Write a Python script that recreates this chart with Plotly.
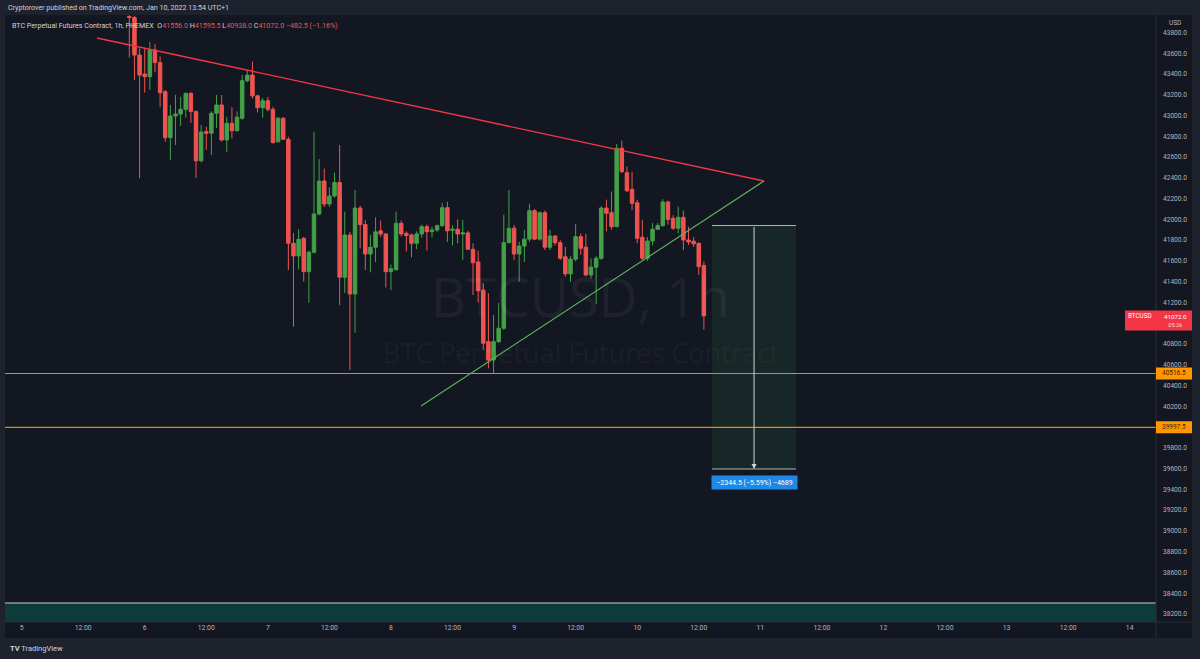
import plotly.graph_objects as go
import pandas as pd

# ---------------- data ----------------
first_candle = "2022-01-05 21:00"
opens = [43955, 43945, 43583, 43400, 43375, 43632, 43510, 43230, 42787, 42996,
         43015, 43060, 43214, 43040, 42565, 42845, 42830, 43022, 43102, 42765,
         42926, 42855, 42974, 43336, 43390, 43190, 43076, 43143, 43060, 42748,
         42974, 42772, 41770, 41648, 41818, 41497, 41683, 42052,
         42370, 42148, 42225, 42355, 41443, 41850, 41282, 42110, 41950, 41667,
         41732, 41890, 41860, 41497, 41515, 41963, 41866, 41850, 41770, 41860,
         41930, 41882, 41898, 41940, 42113, 41895, 41905, 41860, 41870, 41712,
         41590, 41320, 40823, 40646, 40823, 40952, 41776, 41915,
         41667, 41744, 41810, 42084, 41810, 42065, 41732, 41840, 41776, 41640,
         41475, 41617, 41834, 41732, 41465, 41540, 41625, 42110, 42065, 41930,
         42685, 42450, 42290, 42160, 41828, 41626, 41792, 41905, 41940, 42168,
         42010, 41915, 42020, 41802, 41790, 41770, 41556]
highs = [43965, 43960, 43648, 43650, 43710, 43690, 43570, 43246, 43102, 43198,
         43180, 43220, 43225, 43050, 42910, 42893, 43040, 43198, 43198, 42990,
         43080, 43040, 43390, 43440, 43520, 43200, 43170, 43180, 43085, 42990,
         42985, 42797, 41870, 41905, 41830, 41700, 42845, 42580,
         42490, 42310, 42450, 42717, 42075, 41880, 42283, 42130, 41995, 41850,
         42020, 41990, 41867, 41565, 42075, 41990, 41885, 41865, 41885, 41950,
         41950, 41930, 41950, 42160, 42170, 41940, 42000, 41995, 41890, 41770,
         41700, 41385, 41288, 41080, 41195, 42045, 42283, 41945,
         41785, 41900, 42150, 42100, 42075, 42085, 41900, 41850, 41800, 41735,
         41645, 41955, 41865, 41860, 41625, 41650, 42130, 42190, 42268, 42725,
         42760, 42510, 42460, 42190, 41995, 41830, 41965, 41965, 42195, 42180,
         42040, 42123, 42085, 41930, 41830, 41776, 41595.5]
lows = [43560, 43343, 42396, 43220, 43246, 43418, 43080, 42748, 42573, 42717,
        42900, 42980, 42930, 42400, 42550, 42670, 42620, 42880, 42750, 42650,
        42780, 42845, 42960, 43320, 43165, 43030, 42980, 43040, 42730, 42740,
        42765, 41513, 40967, 41520, 41400, 41198, 41674, 42040,
        42120, 42120, 42210, 41175, 41290, 40550, 40909, 41720, 41513, 41490,
        41590, 41830, 41345, 41320, 41510, 41835, 41690, 41635, 41715, 41825,
        41700, 41825, 41880, 41930, 41785, 41750, 41770, 41610, 41705, 41272,
        41200, 40743, 40566, 40518, 40810, 40935, 41770, 41610,
        41400, 41590, 41785, 41800, 41795, 41705, 41705, 41750, 41610, 41450,
        41400, 41595, 41660, 41450, 41430, 41185, 41610, 41885, 41900, 41925,
        42445, 42265, 42090, 41770, 41610, 41600, 41750, 41900, 41930, 41950,
        41900, 41866, 41705, 41755, 41735, 41465, 40938]
closes = [43945, 43583, 43390, 43375, 43632, 43510, 43220, 42787, 42996, 43015,
          43060, 43214, 43040, 42565, 42842, 42830, 43022, 43102, 42765, 42926,
          42855, 42984, 43336, 43390, 43190, 43076, 43143, 43060, 42740, 42974,
          42772, 41770, 41648, 41808, 41497, 41683, 42052, 42370,
          42148, 42225, 42355, 41443, 41850, 41282, 42110, 41950, 41667, 41732,
          41880, 41860, 41497, 41525, 41963, 41860, 41845, 41770, 41860, 41930,
          41882, 41898, 41940, 42113, 41890, 41905, 41860, 41870, 41712, 41583,
          41313, 40807, 40646, 40823, 40952, 41776, 41915, 41667,
          41744, 41810, 42084, 41810, 42065, 41732, 41840, 41776, 41626, 41475,
          41617, 41834, 41722, 41465, 41540, 41625, 42110, 42060, 41930, 42685,
          42460, 42276, 42155, 41818, 41626, 41792, 41905, 41940, 42168, 42000,
          41915, 42020, 41802, 41783, 41765, 41545, 41072]

times = pd.date_range(first_candle, periods=len(opens), freq="h")

day_ticks = pd.date_range("2022-01-05", "2022-01-14", freq="12h")
day_tick_text = [str(t.day) if t.hour == 0 else "12:00" for t in day_ticks]
price_ticks = list(range(38200, 43801, 200))
hidden_price_ticks = [41000, 40000]   # covered by the price labels in the original

x_range = ["2022-01-04 20:46", "2022-01-14 05:08"]
y_range = [38123, 43968.5]

resistance_t = ["2022-01-05 14:42", "2022-01-11 00:43"]
resistance_p = [43747, 42370]
support_t = ["2022-01-08 05:52", "2022-01-11 00:43"]
support_p = [40203, 42370]

levels = [40516.5, 39997.5]
zone_top = 38306

measure_t = ["2022-01-10 14:36", "2022-01-11 06:58"]
measure_top = 41941.0
measure_change = -2344.5
measure_pct = -5.59
measure_ticks = -4689

last_change = -482.5
last_pct = -1.16
countdown = "05:26"

# ---------------- colours ----------------
FRAME = "#1e222d"
BG = "#131722"
UP = "#43a047"
DOWN = "#ef5350"
TXT = "#b2b5be"
SEP = "#2a2e39"
ORANGE = "#e8870f"
FONT = "Roboto"

# pixel helpers for the overlay layout (plot area 5..1156 x 15..622)
def pxx(x):
    return (x - 5) / 1151.0

def pxy(y):
    return (622 - y) / 607.0

def price_to_px(p):
    return 15 + (y_range[1] - p) * 607.0 / (y_range[1] - y_range[0])

fig = go.Figure()

fig.add_trace(go.Candlestick(
    x=times, open=opens, high=highs, low=lows, close=closes,
    increasing=dict(line=dict(color=UP, width=1), fillcolor=UP),
    decreasing=dict(line=dict(color=DOWN, width=1), fillcolor=DOWN),
    whiskerwidth=0, showlegend=False, hoverinfo="skip",
))

for lv in levels:
    fig.add_trace(go.Scatter(x=x_range, y=[lv, lv], mode="lines",
                             line=dict(color=ORANGE, width=1.1),
                             showlegend=False, hoverinfo="skip"))

fig.add_trace(go.Scatter(x=resistance_t, y=resistance_p, mode="lines",
                         line=dict(color="#f23645", width=1.4),
                         showlegend=False, hoverinfo="skip"))
fig.add_trace(go.Scatter(x=support_t, y=support_p, mode="lines",
                         line=dict(color="#5cb85c", width=1.1),
                         showlegend=False, hoverinfo="skip"))

shapes = []
# chart box background
shapes.append(dict(type="rect", xref="paper", yref="paper", x0=pxx(5), x1=pxx(1192),
                   y0=pxy(638), y1=pxy(15), fillcolor=BG, line=dict(width=0), layer="below"))
# bottom zone
shapes.append(dict(type="rect", xref="paper", yref="y", x0=0, x1=1, y0=y_range[0] - 200,
                   y1=zone_top, fillcolor="#0d3b3a", line=dict(width=0), layer="below"))
shapes.append(dict(type="line", xref="paper", yref="y", x0=0, x1=1, y0=zone_top,
                   y1=zone_top, line=dict(color="#c9ccd4", width=1)))
# measure box
m_bot = measure_top + measure_change
shapes.append(dict(type="rect", xref="x", yref="y", x0=measure_t[0], x1=measure_t[1],
                   y0=m_bot, y1=measure_top, fillcolor="rgba(60,150,70,0.12)",
                   line=dict(width=0), layer="below"))
for yv in (measure_top, m_bot):
    shapes.append(dict(type="line", xref="x", yref="y", x0=measure_t[0], x1=measure_t[1],
                       y0=yv, y1=yv, line=dict(color="#b2b5be", width=1)))
# separators
shapes.append(dict(type="line", xref="paper", yref="paper", x0=1, x1=1, y0=pxy(638),
                   y1=pxy(15), line=dict(color=SEP, width=1)))
shapes.append(dict(type="line", xref="paper", yref="paper", x0=0, x1=pxx(1192), y0=0,
                   y1=0, line=dict(color=SEP, width=1)))
# price labels on axis
shapes.append(dict(type="rect", xref="paper", yref="paper", x0=pxx(1125), x1=pxx(1192),
                   y0=pxy(330.5), y1=pxy(310.5), fillcolor="#f23645", line=dict(width=0)))
for lv in levels:
    yp = price_to_px(lv)
    shapes.append(dict(type="rect", xref="paper", yref="paper", x0=pxx(1156), x1=pxx(1192),
                       y0=pxy(yp + 6), y1=pxy(yp - 6), fillcolor="#ff9800", line=dict(width=0)))

annotations = []

def note(x, y, text, size, color, xanchor="center", family=FONT, **kw):
    d = dict(x=x, y=y, xref="paper", yref="paper", showarrow=False, text=text,
             xanchor=xanchor, yanchor="middle",
             font=dict(family=family, size=size, color=color))
    d.update(kw)
    annotations.append(d)

mid_t = pd.Timestamp(measure_t[0]) + (pd.Timestamp(measure_t[1]) - pd.Timestamp(measure_t[0])) / 2
annotations.append(dict(x=mid_t, y=m_bot, xref="x", yref="y", ax=mid_t, ay=measure_top,
                        axref="x", ayref="y", showarrow=True, arrowhead=2, arrowsize=1,
                        arrowwidth=1, arrowcolor="#d1d4dc", text=""))
annotations.append(dict(x=mid_t, y=m_bot, xref="x", yref="y", yshift=-14, showarrow=False,
                        xanchor="center", yanchor="middle",
                        text=f"\u2212{abs(measure_change):.1f} (\u2212{abs(measure_pct):.2f}%) \u2212{abs(measure_ticks)}",
                        bgcolor="#1e88e5", font=dict(family=FONT, size=7, color="white"),
                        width=82, height=10, borderpad=1.5))
# watermark
note(0.5, pxy(296), "BTCUSD, 1h", 54, "rgba(255,255,255,0.05)", family="Open Sans")
note(0.5, pxy(352), "BTC Perpetual Futures Contract", 27, "rgba(255,255,255,0.05)",
     family="Open Sans")
# header
note(pxx(6), pxy(8), "Cryptorover published on TradingView.com, Jan 10, 2022 13:54 UTC+1",
     7.1, "#d1d4dc", xanchor="left")
o, h, l, c = opens[-1], highs[-1], lows[-1], closes[-1]
red = "<span style='color:%s'>" % DOWN
legend_txt = ("BTC Perpetual Futures Contract, 1h, PHEMEX  "
              f"O{red}{o:.1f}</span> H{red}{h:.1f}</span> L{red}{l:.1f}</span> "
              f"C{red}{c:.1f}</span> {red}\u2212{abs(last_change):.1f} (\u2212{abs(last_pct):.2f}%)</span>")
note(pxx(10), pxy(25), legend_txt, 7.1, "#d1d4dc", xanchor="left")
note(pxx(1175), pxy(23), "USD", 6.5, TXT)
note(pxx(1140), pxy(316), "BTCUSD", 6.3, "white")
note(pxx(1175), pxy(320.5),
     f"{c:.1f}<br><span style='font-size:5.6px;color:#ffd6d6'>{countdown}</span>",
     6.2, "white", borderpad=0)
for lv in levels:
    note(pxx(1174), pxy(price_to_px(lv)), f"{lv:.1f}", 6.5, "#3a2400")
note(pxx(8), pxy(648), "<b>TV</b> TradingView", 7.5, "#d1d4dc", xanchor="left")

price_tick_text = ["" if p in hidden_price_ticks else f"{p:.1f}" for p in price_ticks]

fig.update_layout(
    width=1200, height=659,
    margin=dict(l=5, r=44, t=15, b=37, pad=0),
    paper_bgcolor=FRAME, plot_bgcolor=BG,
    boxgap=0.2, boxgroupgap=0.15,
    shapes=shapes, annotations=annotations,
    hovermode=False, showlegend=False,
    xaxis=dict(type="date", range=x_range, rangeslider=dict(visible=False),
               showgrid=False, zeroline=False, tickvals=list(day_ticks),
               ticktext=day_tick_text, tickfont=dict(family=FONT, size=6.8, color=TXT),
               ticks="", showline=False, fixedrange=True),
    yaxis=dict(side="right", range=y_range, showgrid=False, zeroline=False,
               tickvals=price_ticks, ticktext=price_tick_text,
               tickfont=dict(family=FONT, size=6.6, color=TXT), ticks="",
               ticklabelstandoff=6, showline=False, fixedrange=True),
)

fig.write_html("out.html", config={"displayModeBar": False},
               post_script="document.body.style.margin='0px';document.body.style.overflow='hidden';")
